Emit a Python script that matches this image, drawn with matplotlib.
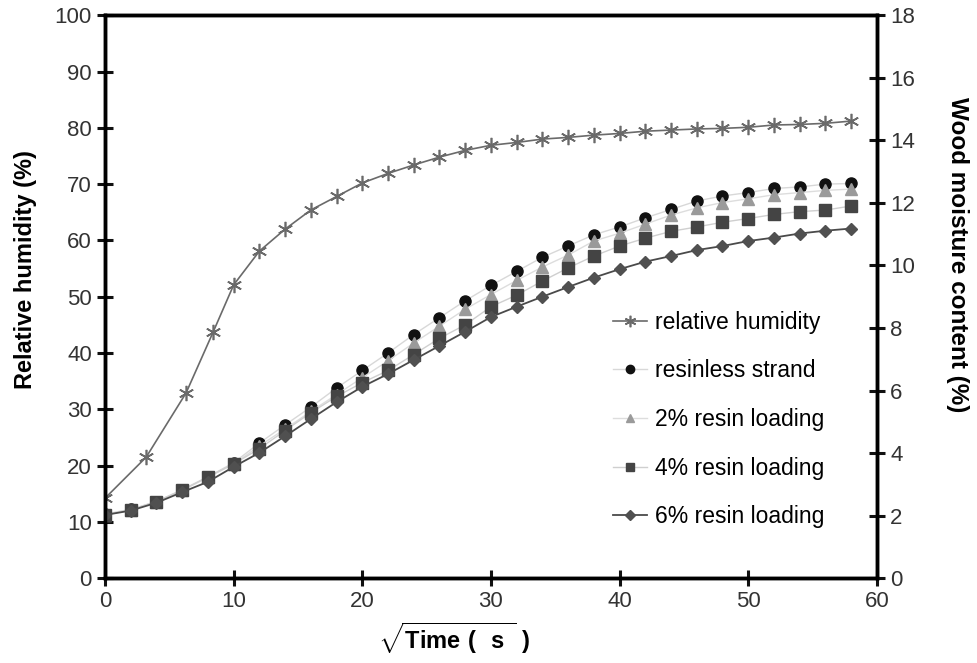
import matplotlib
matplotlib.use("Agg")
import matplotlib.pyplot as plt

plt.rcParams["font.family"] = ["Liberation Sans", "DejaVu Sans"]
plt.rcParams["mathtext.fontset"] = "custom"
plt.rcParams["mathtext.rm"] = "Liberation Sans"
plt.rcParams["mathtext.bf"] = "Liberation Sans:bold"

# relative humidity (left axis), x = sqrt(time)
rh_x = [0, 3.2, 6.3, 8.4, 10, 12, 14, 16, 18, 20, 22, 24, 26, 28, 30,
        32, 34, 36, 38, 40, 42, 44, 46, 48, 50, 52, 54, 56, 58]
rh_y = [14.2, 21.5, 32.9, 43.7, 52.1, 58.1, 62.0, 65.4, 67.8, 70.2, 71.9, 73.4, 74.8, 76.0, 76.9,
        77.4, 78.0, 78.3, 78.7, 79.0, 79.4, 79.6, 79.8, 79.9, 80.1, 80.5, 80.6, 80.8, 81.2]

# wood moisture content (right axis)
wm_x = list(range(0, 60, 2))
resinless = [2.05, 2.20, 2.45, 2.83, 3.24, 3.69, 4.32, 4.90, 5.47, 6.08,
             6.64, 7.20, 7.79, 8.33, 8.87, 9.36, 9.81, 10.26, 10.62, 10.98,
             11.23, 11.52, 11.79, 12.06, 12.22, 12.33, 12.46, 12.51, 12.60, 12.62]
resin2 = [2.03, 2.18, 2.45, 2.81, 3.22, 3.65, 4.23, 4.77, 5.33, 5.87,
          6.41, 6.95, 7.52, 8.06, 8.60, 9.07, 9.52, 9.95, 10.33, 10.78,
          11.03, 11.32, 11.61, 11.84, 12.01, 12.13, 12.26, 12.33, 12.40, 12.44]
resin4 = [2.02, 2.18, 2.45, 2.81, 3.24, 3.65, 4.14, 4.72, 5.29, 5.81,
          6.25, 6.64, 7.15, 7.67, 8.10, 8.68, 9.05, 9.50, 9.92, 10.30,
          10.62, 10.87, 11.09, 11.23, 11.38, 11.50, 11.63, 11.72, 11.77, 11.90]
resin6 = [2.02, 2.16, 2.41, 2.75, 3.08, 3.56, 4.01, 4.54, 5.09, 5.63,
          6.12, 6.53, 6.98, 7.43, 7.88, 8.35, 8.68, 9.00, 9.31, 9.61,
          9.88, 10.12, 10.30, 10.49, 10.62, 10.78, 10.89, 11.02, 11.11, 11.18]

fig = plt.figure(figsize=(9.77, 6.63), dpi=100)
ax = fig.add_axes([0.1075, 0.128, 0.79, 0.849])
ax2 = ax.twinx()

star = (6, 2, 0)
h_rh, = ax.plot(rh_x, rh_y, color="#6a6a6a", lw=1.2, marker=star, ms=11,
                mew=1.2, mec="#6a6a6a", label="relative humidity")

h1, = ax2.plot(wm_x, resinless, color="#d8d8d8", lw=1.0, marker="o", ms=8,
               mfc="#111111", mec="#111111", label="resinless strand")
h2, = ax2.plot(wm_x, resin2, color="#dddddd", lw=1.0, marker="^", ms=8,
               mfc="#9a9a9a", mec="#9a9a9a", label="2% resin loading")
h4, = ax2.plot(wm_x, resin4, color="#cfcfcf", lw=1.0, marker="s", ms=8,
               mfc="#444444", mec="#444444", label="4% resin loading")
h6, = ax2.plot(wm_x, resin6, color="#4a4a4a", lw=1.3, marker="D", ms=6.5,
               mfc="#505050", mec="#505050", label="6% resin loading")

ax.set_xlim(0, 60)
ax.set_ylim(0, 100)
ax2.set_ylim(0, 18)
ax.set_xticks(range(0, 61, 10))
ax.set_yticks(range(0, 101, 10))
ax2.set_yticks(range(0, 19, 2))

for a in (ax, ax2):
    for s in a.spines.values():
        s.set_linewidth(2.5)
    a.tick_params(direction="inout", length=11, width=2.2, labelsize=16,
                  colors="#111111", labelcolor="#333333", pad=4)

ax.set_ylabel("Relative humidity (%)", fontsize=17, fontweight="bold",
              va="center", ha="center")
ax.yaxis.set_label_coords(-0.103, 0.549)
ax2.set_ylabel("Wood moisture content (%)", fontsize=17.5, fontweight="bold",
               rotation=270, va="center", ha="center")
ax2.yaxis.set_label_coords(1.105, 0.575)
ax.set_xlabel(r"$\sqrt{\mathbf{Time\ (\ \ s\ }}$ $\mathbf{)}$", fontsize=17)
ax.xaxis.set_label_coords(0.452, -0.075)

leg = ax2.legend(handles=[h_rh, h1, h2, h4, h6], loc="upper left",
                 bbox_to_anchor=(592 / 977, 1 - 290 / 663),
                 bbox_transform=fig.transFigure, frameon=False, fontsize=16.5,
                 handlelength=1.5, handletextpad=0.35, labelspacing=1.12,
                 markerscale=0.75)

fig.savefig("out.png", dpi=100, facecolor="white")
